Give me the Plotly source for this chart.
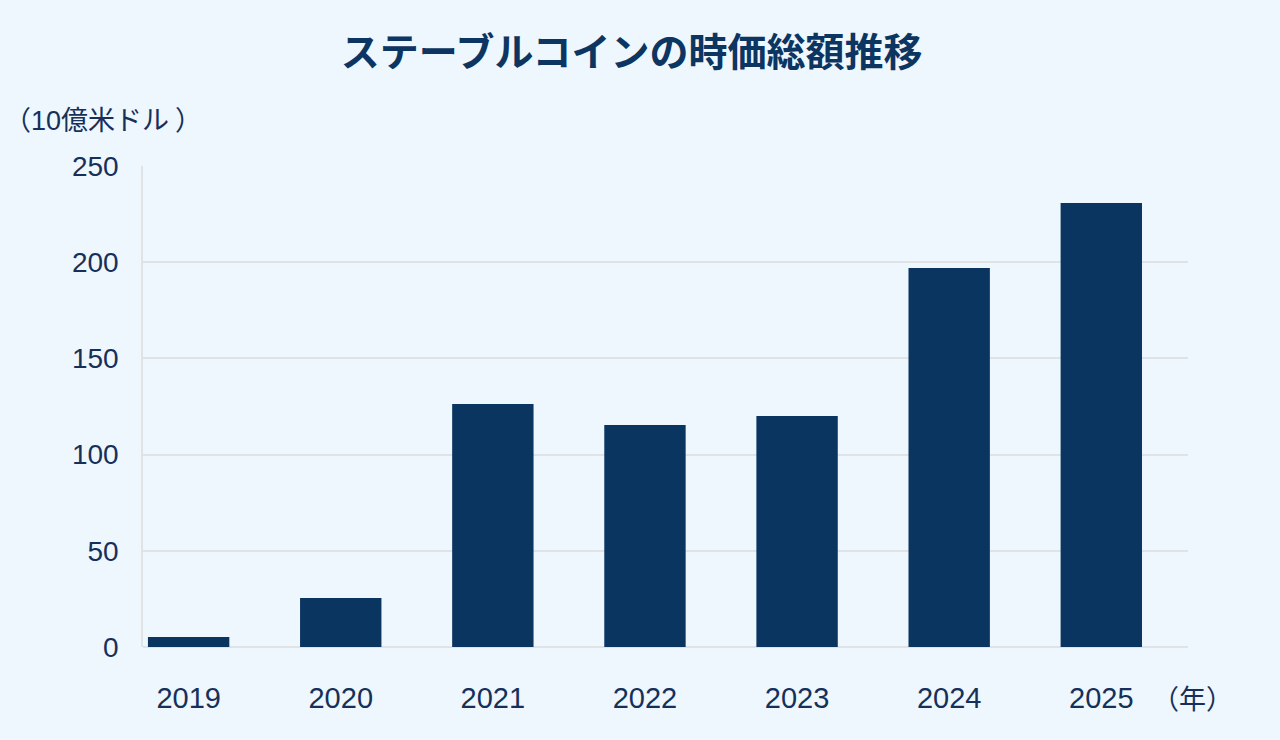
import plotly.graph_objects as go

years = ["2019", "2020", "2021", "2022", "2023", "2024", "2025"]
values = [5.2, 25.5, 126.3, 115.4, 120.0, 197.0, 230.8]
y_ticks = [0, 50, 100, 150, 200, 250]

BG = "#edf7fd"
BAR = "#0b3561"
TXT = "#17305a"
FONT = "Liberation Sans, Arial, Noto Sans CJK JP, sans-serif"

fig = go.Figure(go.Bar(x=years, y=values, marker_color=BAR, width=0.535,
                       marker_line_width=0))

fig.update_layout(
    width=1280, height=740,
    paper_bgcolor=BG, plot_bgcolor=BG,
    margin=dict(l=143, r=92, t=166, b=93),
    showlegend=False,
    font=dict(family=FONT, color=TXT, size=29),
    title=dict(text="<b>ステーブルコインの時価総額推移</b>", x=0.4935, xanchor="center",
               y=0.929, yanchor="middle",
               font=dict(family="Noto Sans CJK JP, sans-serif", size=39, color="#0d3561")),
    xaxis=dict(type="category", range=[-0.3, 6.57], showgrid=False,
               showline=False, ticks="", ticklabelstandoff=31,
               tickfont=dict(size=29, color=TXT)),
    yaxis=dict(range=[0, 250], tickvals=y_ticks, showgrid=True, gridcolor="#dfe3e6",
               gridwidth=1.5, zeroline=True, zerolinecolor="#dfe3e6", zerolinewidth=1.5,
               showline=True, linecolor="#dfe3e6", linewidth=1.5,
               ticks="", ticklabelstandoff=17, tickfont=dict(size=28, color=TXT)),
    annotations=[
        dict(text="（<span style='font-family:Liberation Sans'>10</span>億米ドル ）",
             xref="paper", yref="paper", x=-143/1045, y=(740-118-93)/481,
             xanchor="left", yanchor="middle", showarrow=False, xshift=2,
             font=dict(size=27, color=TXT, family="Noto Sans CJK JP, sans-serif")),
        dict(text="（年）", xref="paper", yref="paper", x=1.0, y=-(697-647)/481,
             xanchor="center", yanchor="middle", showarrow=False, xshift=4,
             font=dict(size=27, color=TXT, family="Noto Sans CJK JP, sans-serif")),
    ],
)

fig.write_html("out.html")
